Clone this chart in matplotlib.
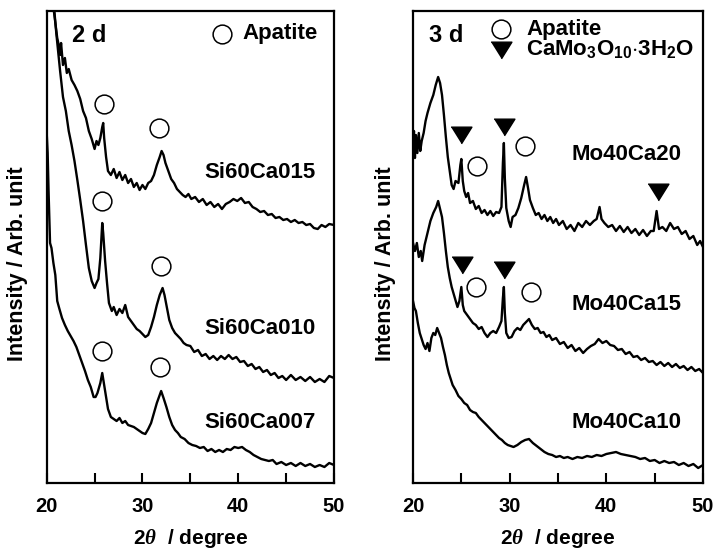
import matplotlib
matplotlib.use("Agg")
import matplotlib.pyplot as plt
import numpy as np

plt.rcParams['font.family'] = ['Liberation Sans', 'DejaVu Sans']
plt.rcParams['font.weight'] = 'bold'
plt.rcParams['mathtext.fontset'] = 'custom'
plt.rcParams['mathtext.rm'] = 'Liberation Sans:bold'
plt.rcParams['mathtext.bf'] = 'Liberation Sans:bold'
plt.rcParams['mathtext.it'] = 'Liberation Serif:italic'
plt.rcParams['mathtext.default'] = 'rm'

# ---------------- data (2theta in degree, intensity in arb. units, stacked) ----------------
si015_x = [20.0, 20.5, 20.8, 21.1, 21.3, 21.4, 21.5, 21.7, 21.9, 22.1, 22.3, 22.6, 22.9, 23.2, 23.5, 23.8,
           24.1, 24.4, 24.7, 25.0, 25.2, 25.4, 25.6, 25.8, 25.9, 26.0, 26.2, 26.4, 26.7, 27.0, 27.3, 27.6,
           27.9, 28.2, 28.5, 28.8, 29.1, 29.4, 29.7, 30.0, 30.3, 30.6, 30.9, 31.2, 31.5, 31.8, 32.0, 32.2,
           32.4, 32.7, 33.0, 33.3, 33.6, 33.9, 34.2, 34.5, 34.8, 35.1, 35.5, 35.9, 36.3, 36.7, 37.1, 37.5,
           37.9, 38.3, 38.7, 39.1, 39.5, 39.9, 40.3, 40.7, 41.1, 41.5, 41.9, 42.3, 42.7, 43.1, 43.5, 43.9,
           44.3, 44.7, 45.1, 45.5, 45.9, 46.3, 46.7, 47.1, 47.5, 47.9, 48.3, 48.7, 49.1, 49.5, 50.0]
si015_y = [530, 490, 468, 445, 436, 428, 440, 418, 425, 410, 414, 403, 398, 392, 384, 372,
           365, 352, 344, 334, 342, 338, 345, 356, 360, 345, 326, 312, 308, 314, 305, 311,
           303, 308, 300, 304, 296, 300, 293, 298, 294, 300, 302, 308, 318, 326, 332, 328,
           320, 312, 304, 300, 294, 291, 288, 286, 289, 284, 286, 281, 284, 278, 281, 276,
           279, 274, 279, 281, 284, 282, 285, 280, 281, 276, 274, 271, 272, 268, 269, 265,
           266, 263, 264, 261, 263, 260, 261, 258, 259, 255, 254, 258, 256, 259, 258]

si010_x = [20.0, 20.5, 21.0, 21.4, 21.7, 22.0, 22.3, 22.6, 22.9, 23.2, 23.5, 23.8, 24.1, 24.4, 24.7, 25.0,
           25.2, 25.4, 25.6, 25.8, 25.9, 26.1, 26.3, 26.5, 26.8, 27.0, 27.3, 27.6, 27.9, 28.2, 28.5, 28.8,
           29.1, 29.4, 29.7, 30.0, 30.3, 30.6, 30.9, 31.2, 31.5, 31.8, 32.1, 32.3, 32.5, 32.8, 33.1, 33.4,
           33.7, 34.0, 34.3, 34.6, 35.0, 35.4, 35.8, 36.2, 36.6, 37.0, 37.4, 37.8, 38.2, 38.6, 39.0, 39.4,
           39.8, 40.2, 40.6, 41.0, 41.4, 41.8, 42.2, 42.6, 43.0, 43.4, 43.8, 44.2, 44.6, 45.0, 45.5, 46.0,
           46.5, 47.0, 47.5, 48.0, 48.5, 49.0, 49.5, 50.0]
si010_y = [560, 505, 450, 412, 386, 372, 352, 338, 322, 303, 283, 262, 238, 215, 202, 195,
           200, 204, 225, 260, 250, 222, 200, 180, 172, 176, 168, 174, 170, 178, 166, 162,
           158, 154, 152, 149, 146, 148, 156, 166, 178, 188, 195, 188, 178, 163, 155, 150,
           147, 144, 140, 138, 137, 131, 133, 127, 129, 124, 127, 123, 127, 124, 128, 124,
           126, 121, 122, 117, 119, 114, 116, 111, 113, 108, 110, 105, 107, 103, 108, 103,
           106, 102, 106, 101, 104, 101, 107, 105]

si007_x = [20.0, 20.1, 20.2, 20.35, 20.5, 20.7, 20.9, 21.1, 21.3, 21.6, 21.9, 22.2, 22.5, 22.8, 23.1, 23.4,
           23.7, 24.0, 24.3, 24.6, 24.9, 25.1, 25.3, 25.6, 25.8, 26.0, 26.2, 26.4, 26.7, 27.0, 27.3, 27.6,
           27.9, 28.2, 28.5, 28.8, 29.1, 29.4, 29.7, 30.0, 30.3, 30.6, 30.9, 31.2, 31.5, 31.8, 31.95, 32.2,
           32.5, 32.8, 33.1, 33.4, 33.7, 34.0, 34.4, 34.8, 35.2, 35.6, 36.0, 36.4, 36.8, 37.2, 37.6, 38.0,
           38.4, 38.8, 39.2, 39.6, 40.0, 40.4, 40.8, 41.2, 41.6, 42.0, 42.4, 42.8, 43.2, 43.6, 44.0, 44.5,
           45.0, 45.5, 46.0, 46.5, 47.0, 47.5, 48.0, 48.5, 49.0, 49.5, 50.0]
si007_y = [350, 330, 290, 240, 235, 220, 208, 182, 175, 165, 158, 152, 147, 142, 136, 128,
           120, 112, 103, 96, 86, 86, 90, 100, 110, 98, 86, 74, 66, 64, 62, 65,
           60, 62, 58, 57, 56, 54, 52, 50, 49, 54, 60, 70, 80, 88, 92, 85,
           76, 66, 58, 53, 50, 46, 44, 40, 38, 37, 35, 36, 32, 34, 31, 33,
           31, 34, 33, 36, 35, 36, 33, 31, 28, 26, 24, 23, 22, 23, 19, 21,
           18, 20, 17, 20, 17, 19, 16, 18, 16, 20, 18]

mo20_x = [20.0, 20.1, 20.2, 20.3, 20.45, 20.6, 20.75, 20.9, 21.1, 21.3, 21.5, 21.8, 22.1, 22.35, 22.6, 22.8,
          23.0, 23.2, 23.4, 23.6, 23.8, 24.0, 24.2, 24.4, 24.7, 24.9, 25.0, 25.15, 25.3, 25.5, 25.7, 25.9,
          26.2, 26.5, 26.8, 27.1, 27.4, 27.7, 28.0, 28.3, 28.6, 28.9, 29.15, 29.3, 29.4, 29.5, 29.65, 29.9,
          30.1, 30.3, 30.6, 30.9, 31.2, 31.5, 31.7, 31.9, 32.1, 32.4, 32.7, 33.0, 33.3, 33.6, 33.9, 34.2,
          34.5, 34.8, 35.1, 35.5, 35.9, 36.3, 36.7, 37.1, 37.5, 37.9, 38.3, 38.7, 39.0, 39.3, 39.5, 39.8,
          40.2, 40.6, 41.0, 41.4, 41.8, 42.2, 42.6, 43.0, 43.4, 43.8, 44.2, 44.6, 44.9, 45.2, 45.45, 45.8,
          46.2, 46.6, 47.0, 47.4, 47.8, 48.2, 48.6, 49.0, 49.4, 49.7, 50.0]
mo20_y = [335, 352, 325, 348, 330, 350, 332, 342, 350, 362, 370, 380, 388, 398, 406, 400,
          388, 368, 346, 326, 312, 298, 294, 302, 300, 318, 324, 302, 292, 286, 290, 280,
          282, 274, 277, 270, 273, 268, 272, 267, 271, 270, 276, 320, 340, 305, 275, 262,
          256, 266, 268, 275, 285, 298, 306, 295, 283, 275, 268, 270, 264, 268, 262, 266,
          260, 264, 258, 262, 254, 258, 252, 260, 256, 262, 258, 262, 264, 276, 264, 260,
          256, 258, 252, 257, 251, 256, 250, 254, 248, 253, 247, 252, 252, 272, 254, 256,
          252, 260, 254, 256, 249, 252, 244, 247, 238, 242, 236]

mo15_x = [20.0, 20.2, 20.4, 20.6, 20.8, 20.95, 21.2, 21.5, 21.8, 22.1, 22.4, 22.6, 22.8, 23.0, 23.2, 23.4,
          23.6, 23.8, 24.0, 24.3, 24.6, 24.8, 25.0, 25.15, 25.3, 25.6, 25.9, 26.2, 26.5, 26.8, 27.1, 27.4,
          27.7, 28.0, 28.3, 28.6, 28.9, 29.15, 29.3, 29.4, 29.5, 29.65, 29.9, 30.2, 30.5, 30.8, 31.1, 31.4,
          31.7, 32.0, 32.3, 32.6, 32.9, 33.2, 33.5, 33.8, 34.1, 34.4, 34.8, 35.2, 35.6, 36.0, 36.4, 36.8,
          37.2, 37.6, 38.0, 38.4, 38.8, 39.2, 39.6, 40.0, 40.4, 40.8, 41.2, 41.6, 42.0, 42.4, 42.8, 43.2,
          43.6, 44.0, 44.4, 44.8, 45.2, 45.6, 46.0, 46.4, 46.8, 47.2, 47.6, 48.0, 48.4, 48.8, 49.2, 49.6, 50.0]
mo15_y = [240, 232, 240, 226, 232, 222, 238, 250, 262, 270, 276, 282, 274, 266, 250, 232,
          216, 205, 196, 186, 176, 182, 196, 178, 172, 168, 164, 160, 158, 154, 156, 150,
          146, 150, 152, 150, 156, 162, 185, 196, 170, 150, 145, 146, 152, 155, 153, 158,
          161, 164, 158, 154, 155, 150, 151, 146, 148, 143, 145, 139, 141, 135, 138, 132,
          135, 130, 134, 137, 139, 144, 140, 142, 138, 137, 133, 134, 129, 131, 126, 127,
          123, 125, 121, 122, 118, 121, 117, 120, 116, 119, 115, 117, 113, 116, 112, 114, 110]

mo10_x = [20.0, 20.15, 20.3, 20.5, 20.7, 20.9, 21.1, 21.3, 21.5, 21.7, 21.9, 22.1, 22.3, 22.5, 22.7, 22.9,
          23.1, 23.3, 23.5, 23.7, 23.9, 24.1, 24.4, 24.7, 25.0, 25.3, 25.6, 25.9, 26.2, 26.5, 26.8, 27.1,
          27.4, 27.7, 28.0, 28.3, 28.6, 28.9, 29.2, 29.5, 29.8, 30.1, 30.4, 30.8, 31.2, 31.6, 32.0, 32.4,
          32.8, 33.2, 33.6, 34.0, 34.4, 34.8, 35.2, 35.6, 36.0, 36.5, 37.0, 37.5, 38.0, 38.5, 39.0, 39.5,
          40.0, 40.5, 41.0, 41.5, 42.0, 42.5, 43.0, 43.5, 44.0, 44.5, 45.0, 45.5, 46.0, 46.5, 47.0, 47.5,
          48.0, 48.5, 49.0, 49.5, 50.0]
mo10_y = [182, 175, 172, 160, 150, 144, 138, 134, 140, 132, 145, 150, 148, 155, 150, 145,
          136, 128, 118, 110, 104, 98, 93, 87, 84, 80, 78, 73, 71, 70, 66, 63,
          60, 57, 54, 51, 48, 45, 43, 40, 38, 37, 36, 38, 41, 43, 44, 40,
          37, 34, 31, 29, 28, 26, 27, 25, 26, 24, 26, 25, 27, 26, 28, 27,
          29, 30, 31, 29, 28, 27, 26, 24, 25, 22, 23, 20, 22, 20, 21, 18,
          20, 17, 19, 15, 18]

left_labels = ['Si60Ca015', 'Si60Ca010', 'Si60Ca007']
right_labels = ['Mo40Ca20', 'Mo40Ca15', 'Mo40Ca10']
xticks = [20, 25, 30, 35, 40, 45, 50]
xticklabels = ['20', '', '30', '', '40', '', '50']

# ---------------- figure ----------------
W, H = 715, 552
fig = plt.figure(figsize=(W / 100, H / 100), dpi=100)
ax1 = fig.add_axes([46.7 / W, 69 / H, 287.3 / W, 472 / H])
ax2 = fig.add_axes([413 / W, 69 / H, 290 / W, 472 / H])

tri = [(-1, 0.8), (1, 0.8), (0, -0.8)]
FS = 16

for ax in (ax1, ax2):
    ax.set_xlim(20, 50)
    ax.set_ylim(0, 472)
    ax.set_xticks(xticks)
    ax.set_xticklabels(xticklabels, fontsize=14.5, fontweight='bold')
    ax.set_yticks([])
    ax.tick_params(axis='x', direction='in', length=7, width=1.5, pad=10)
    for s in ax.spines.values():
        s.set_linewidth(1.6)
    ax.set_xlabel(r'2$\mathit{\theta}$  / degree', fontsize=15, fontweight='bold', labelpad=8)
    ax.set_ylabel('Intensity / Arb. unit', fontsize=15.5, fontweight='bold')

ax1.yaxis.set_label_coords(-0.064, 0.465)
ax2.yaxis.set_label_coords(-0.060, 0.465)

lw = 1.7
for xs, ys in [(si015_x, si015_y), (si010_x, si010_y), (si007_x, si007_y)]:
    ax1.plot(xs, ys, color='black', lw=lw)
for xs, ys in [(mo20_x, mo20_y), (mo15_x, mo15_y), (mo10_x, mo10_y)]:
    ax2.plot(xs, ys, color='black', lw=lw)

circ = dict(marker='o', ms=13.5, mfc='white', mec='black', mew=1.1, ls='none')
trim = dict(marker=tri, ms=15, color='black', ls='none')

# left panel annotations
ax1.plot([25.98, 31.72, 25.77, 31.93, 25.77, 31.83], [379, 355, 282, 217, 132, 116], **circ)
ax1.plot([38.3], [449], **circ)
ax1.text(40.4, 449, 'Apatite', fontsize=FS, fontweight='bold', va='center', ha='left')
ax1.text(22.6, 448, '2 d', fontsize=17, fontweight='bold', va='center', ha='left')
for lab, yy in zip(left_labels, [310, 154, 61]):
    ax1.text(36.5, yy, lab, fontsize=FS, fontweight='bold', va='center', ha='left')

# right panel annotations
ax2.plot([24.96, 29.41, 45.34, 25.07, 29.41], [348, 356, 291, 218, 213], **trim)
ax2.plot([26.62, 31.58, 26.5, 32.2], [317, 337, 196, 191], **circ)
ax2.plot([29.1], [454], **circ)
ax2.plot([29.1], [433], **trim)
ax2.text(31.7, 454, 'Apatite', fontsize=FS, fontweight='bold', va='center', ha='left')
ax2.text(31.7, 433, r'CaMo$_3$O$_{10}$$\cdot$3H$_2$O', fontsize=FS, fontweight='bold',
         va='center', ha='left')
ax2.text(21.7, 448, '3 d', fontsize=17, fontweight='bold', va='center', ha='left')
for lab, yy in zip(right_labels, [328, 178, 61]):
    ax2.text(36.4, yy, lab, fontsize=FS, fontweight='bold', va='center', ha='left')

fig.savefig('out.png', dpi=100)
